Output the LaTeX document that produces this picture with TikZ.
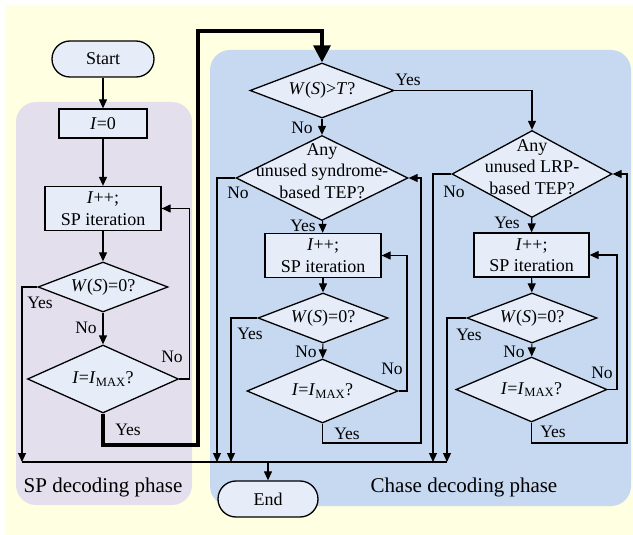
\documentclass[tikz,border=0pt]{standalone}
\usepackage{fontspec}
\setmainfont{Liberation Serif}
\usetikzlibrary{shapes.geometric,arrows.meta}
\definecolor{bgyel}{RGB}{255,255,226}
\definecolor{phpurp}{RGB}{228,223,236}
\definecolor{phblue}{RGB}{198,217,241}
\definecolor{nfill}{RGB}{230,237,248}
\begin{document}
\begin{tikzpicture}[x=1pt,y=-1pt,
  every node/.style={font=\fontsize{18}{21.5}\selectfont},
  proc/.style={draw, line width=1.3pt, fill=nfill, minimum width=116pt, minimum height=44pt, inner sep=0pt, align=center},
  term/.style={draw, line width=1.3pt, fill=nfill, rounded corners=18pt, minimum width=102pt, minimum height=36pt, inner sep=0pt},
  dec/.style={draw, line width=1.3pt, fill=nfill, diamond, inner sep=0pt},
  txt/.style={align=center, inner sep=0pt},
  conn/.style={line width=1.1pt, -{Triangle[length=9pt,width=8pt]}},
  plain/.style={line width=1.1pt},
  heavy/.style={line width=3.2pt, -{Triangle[length=17pt,width=17pt]}},
  lbl/.style={inner sep=0pt, font=\fontsize{17.5}{20}\selectfont},
  phase/.style={inner sep=0pt, font=\fontsize{21}{24}\selectfont}]
\useasboundingbox (0,0) rectangle (633,535);
% backgrounds
\fill[bgyel] (6,5) rectangle (633,535);
\fill[phpurp, rounded corners=20pt] (16,102) rectangle (192,505);
\fill[phblue, rounded corners=20pt] (210,50) rectangle (631,506);
\node[phase] (splab) at (103,487) {SP decoding phase};
\node[phase] (chlab) at (464,487) {Chase decoding phase};

% left column
\node[term] (start) at (103,59) {Start};
\node[proc, minimum width=88pt, minimum height=29pt] (i0) at (103,123.5) {\textit{I}=0};
\node[proc] (sp1) at (103,208.5) {\textit{I}++;\\SP iteration};
\node[dec, minimum width=130pt, minimum height=50pt] (w1) at (103,287) {};
\node[txt] (w1t) at (w1) {\textit{W}(\textit{S})=0?};
\node[dec, minimum width=151pt, minimum height=68pt] (m1) at (103,379) {};
\node[txt] (m1t) at (m1) {\textit{I}=\textit{I}\textsubscript{MAX}?};

% middle column
\node[dec, minimum width=144pt, minimum height=55pt] (wst) at (322,90.5) {};
\node[txt] (wstt) at (wst) {\textit{W}(\textit{S})>\textit{T}?};
\node[dec, minimum width=172pt, minimum height=85pt] (syn) at (322,178) {};
\node[txt] (synt) at (322,171) {Any\\unused syndrome-\\based TEP?};
\node[proc] (sp2) at (323,255.5) {\textit{I}++;\\SP iteration};
\node[dec, minimum width=130pt, minimum height=50pt] (w2) at (323,318) {};
\node[txt] (w2t) at (w2) {\textit{W}(\textit{S})=0?};
\node[dec, minimum width=151pt, minimum height=64pt] (m2) at (322.5,391) {};
\node[txt] (m2t) at (m2) {\textit{I}=\textit{I}\textsubscript{MAX}?};

% right column
\node[dec, minimum width=160pt, minimum height=87pt] (lrp) at (532,174) {};
\node[txt] (lrpt) at (532,167) {Any\\unused LRP-\\based TEP?};
\node[proc, minimum width=115pt] (sp3) at (531.5,255) {\textit{I}++;\\SP iteration};
\node[dec, minimum width=130pt, minimum height=50pt] (w3) at (532,318) {};
\node[txt] (w3t) at (w3) {\textit{W}(\textit{S})=0?};
\node[dec, minimum width=151pt, minimum height=65pt] (m3) at (531.5,389.5) {};
\node[txt] (m3t) at (m3) {\textit{I}=\textit{I}\textsubscript{MAX}?};

% end
\node[term, minimum width=100pt] (end) at (268,499) {End};

% coordinates
\coordinate (b1) at (22,462);
\coordinate (b2) at (217,462);
\coordinate (b3) at (231,462);
\coordinate (b4) at (433,462);
\coordinate (b5) at (447,462);
\coordinate (be) at (268,462);
\coordinate (tk1) at (198,445);
\coordinate (tk2) at (198,31);
\coordinate (l2) at (421,443);
\coordinate (l3) at (627,443);

% left connectors
\draw[conn] (start) -- (i0);
\draw[conn] (i0) -- (sp1);
\draw[conn] (sp1) -- (w1);
\draw[conn] (w1) -- (m1);
\draw[conn] (m1.east) -- ++(10,0) |- (sp1.east);
\draw[conn] (w1.west) -| (b1);
\draw[heavy] (m1.south) |- (tk1) -- (tk2) -| (wst.north);

% middle connectors
\draw[conn] (wst.east) -| (lrp.north);
\draw[conn] (wst) -- (syn);
\draw[conn] (syn.west) -| (b2);
\draw[conn] (syn) -- (sp2);
\draw[conn] (sp2) -- (w2);
\draw[conn] (w2.west) -| (b3);
\draw[conn] (w2) -- (m2);
\draw[conn] (m2.east) -- (407,391) |- (sp2.east);
\draw[conn] (m2.south) |- (l2) |- (syn.east);

% right connectors
\draw[conn] (lrp.west) -| (b4);
\draw[conn] (lrp) -- (sp3);
\draw[conn] (sp3) -- (w3);
\draw[conn] (w3.west) -| (b5);
\draw[conn] (w3) -- (m3);
\draw[conn] (m3.east) -- (617,389.5) |- (sp3.east);
\draw[conn] (m3.south) |- (l3) |- (lrp.east);

% bottom bus
\draw[plain] (b1) -- (b5);
\draw[conn] (be) -- (end);

% labels
\node[lbl] (ly1) at (40,303) {Yes};
\node[lbl] (ln1) at (86,328) {No};
\node[lbl] (ln2) at (172,357) {No};
\node[lbl] (ly2) at (128,430) {Yes};
\node[lbl] (ly3) at (408,80) {Yes};
\node[lbl] (ln3) at (302,128) {No};
\node[lbl] (ln4) at (238,193) {No};
\node[lbl] (ly4) at (303,226) {Yes};
\node[lbl] (ly5) at (250,334) {Yes};
\node[lbl] (ln5) at (306,352) {No};
\node[lbl] (ln6) at (392,369) {No};
\node[lbl] (ly6) at (347,434) {Yes};
\node[lbl] (ln7) at (454,192) {No};
\node[lbl] (ly7) at (507,223) {Yes};
\node[lbl] (ly8) at (469,335) {Yes};
\node[lbl] (ln8) at (514,352) {No};
\node[lbl] (ln9) at (602,373) {No};
\node[lbl] (ly9) at (553,432) {Yes};
\end{tikzpicture}
\end{document}
